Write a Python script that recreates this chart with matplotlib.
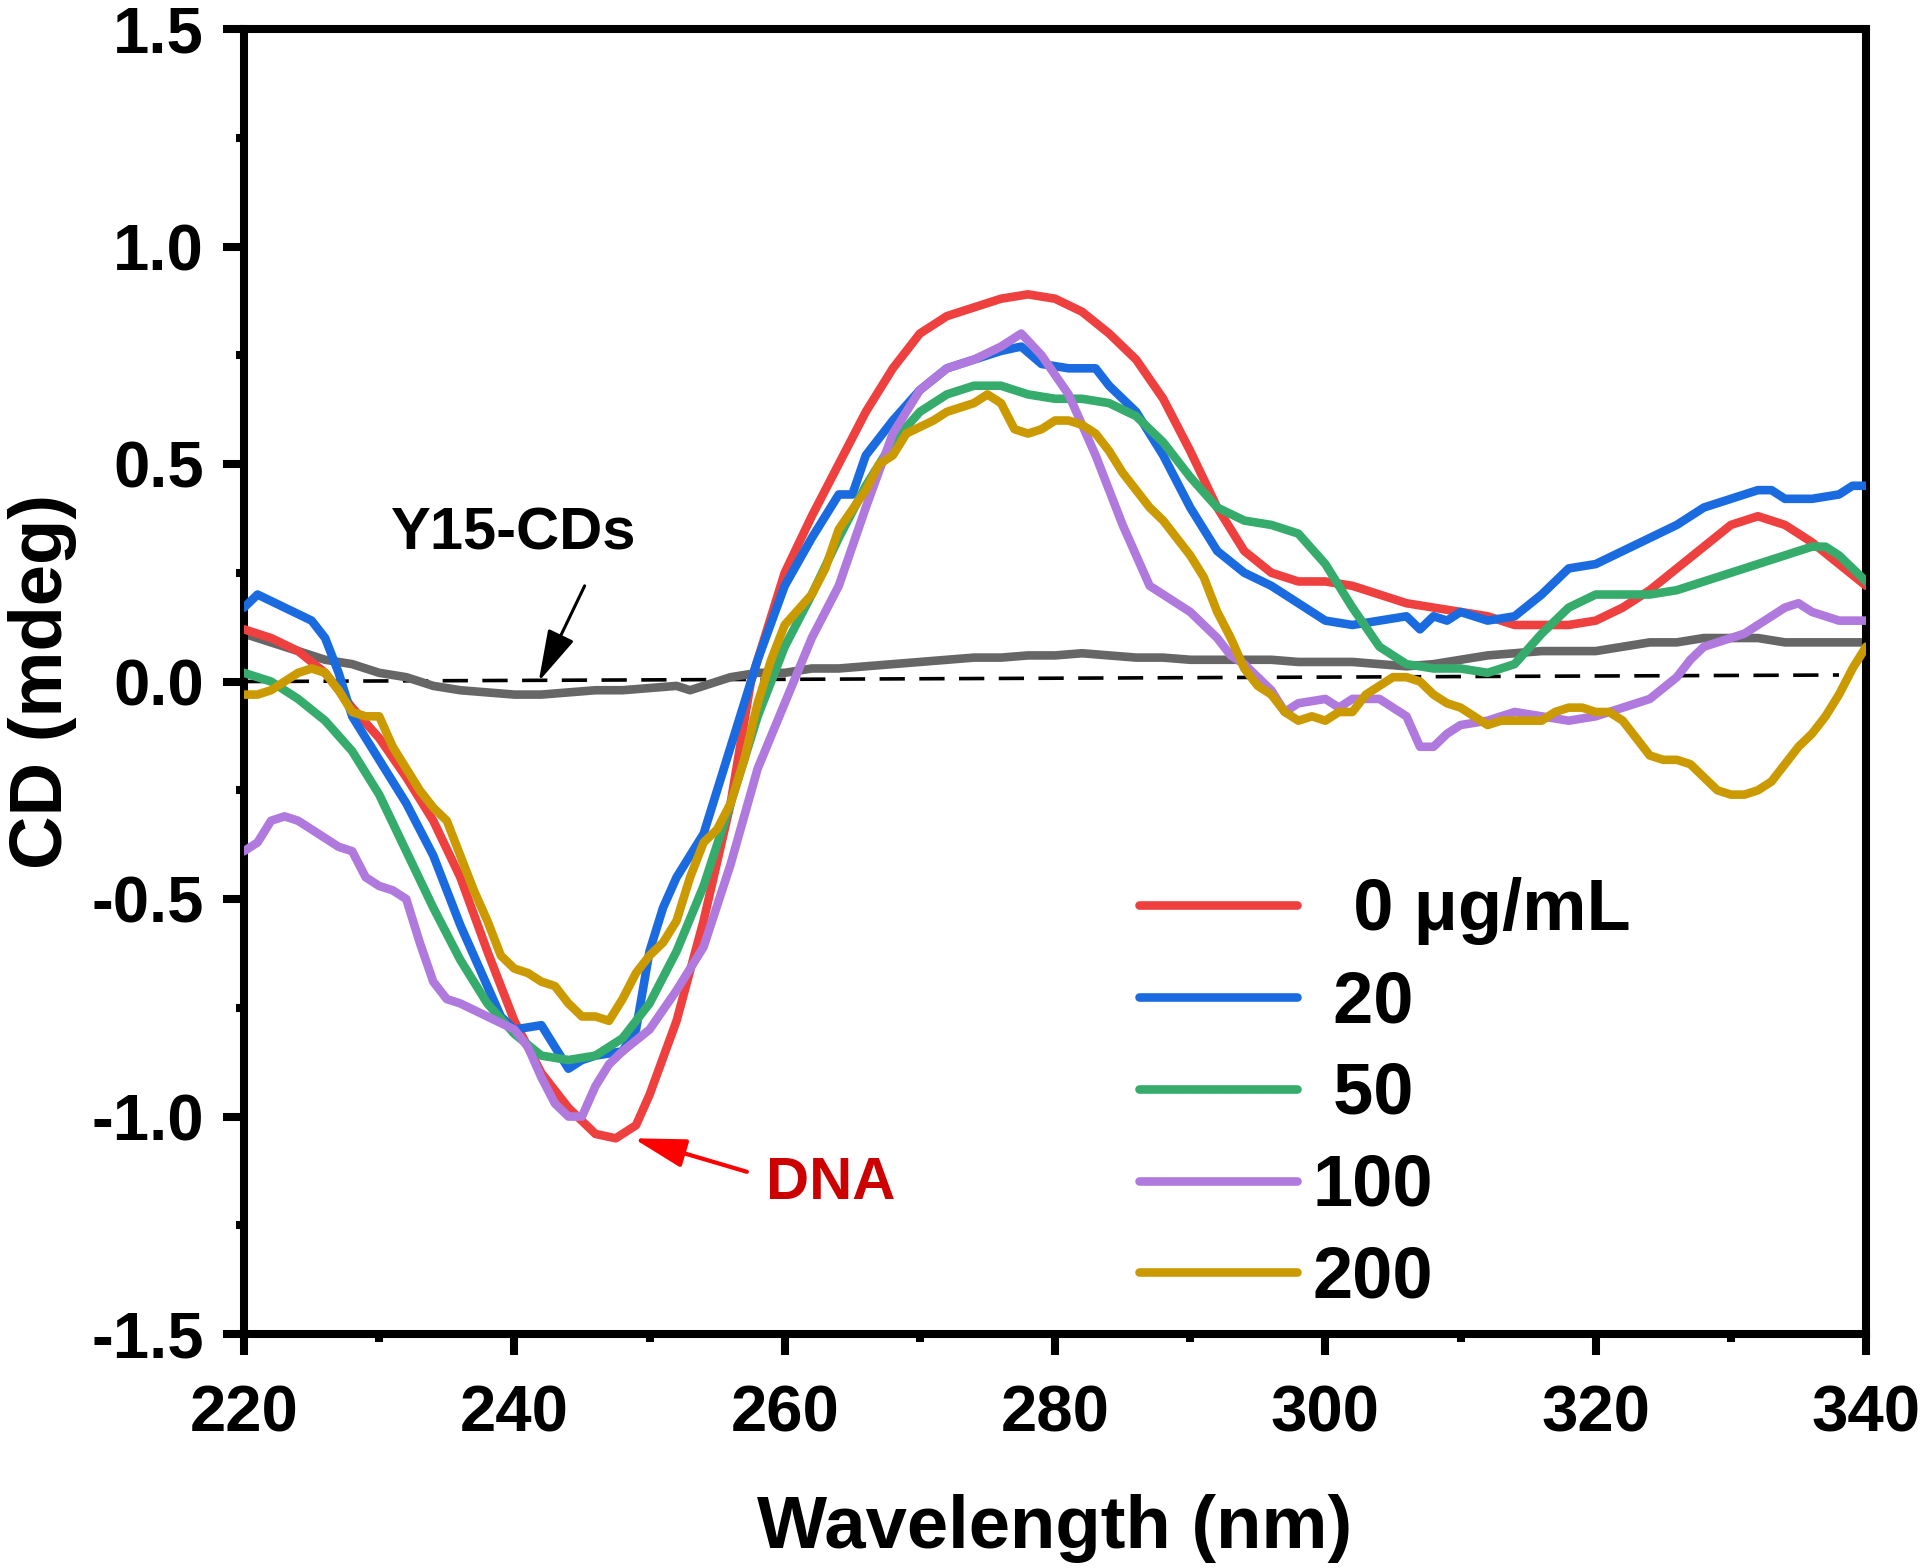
import matplotlib.pyplot as plt
from matplotlib.ticker import MultipleLocator

plt.rcParams["font.family"] = ["Liberation Sans", "DejaVu Sans"]
plt.rcParams["font.weight"] = "bold"

# ---- data (wavelength nm, CD mdeg) ----
x_dna = [220, 222, 224, 226, 228, 230, 232, 234, 236, 238, 240, 242, 244, 246,
         247.5, 249, 250, 252, 254, 256, 257.5, 260, 262, 264, 266, 268, 270,
         272, 274, 276, 278, 280, 282, 284, 286, 288, 290, 292, 294, 296, 298,
         300, 302, 304, 306, 308, 310, 312, 314, 316, 318, 320, 322, 324, 326,
         328, 330, 332, 334, 336, 338, 340]
y_dna = [0.12, 0.10, 0.07, 0.02, -0.06, -0.13, -0.22, -0.32, -0.45, -0.62,
         -0.78, -0.90, -0.98, -1.04, -1.05, -1.02, -0.95, -0.78, -0.55, -0.28,
         0.0, 0.25, 0.38, 0.50, 0.62, 0.72, 0.80, 0.84, 0.86, 0.88, 0.89, 0.88,
         0.85, 0.80, 0.74, 0.65, 0.53, 0.40, 0.30, 0.25, 0.23, 0.23, 0.22, 0.20,
         0.18, 0.17, 0.16, 0.15, 0.13, 0.13, 0.13, 0.14, 0.17, 0.21, 0.26, 0.31,
         0.36, 0.38, 0.36, 0.32, 0.27, 0.22]

x_20 = [220, 221, 223, 225, 226, 227, 228, 230, 232, 234, 236, 238, 239, 240,
        242, 243, 244, 245, 246, 248, 249, 250, 251, 252, 254, 256, 258, 260,
        262, 264, 265, 266, 268, 270, 272, 274, 276, 277.5, 279, 281, 283, 284,
        286, 288, 290, 292, 294, 296, 298, 300, 302, 304, 306, 307, 308, 309,
        310, 312, 314, 316, 318, 320, 322, 324, 326, 328, 330, 331, 332, 333,
        334, 336, 338, 339, 340]
y_20 = [0.17, 0.20, 0.17, 0.14, 0.10, 0.02, -0.08, -0.18, -0.28, -0.40, -0.56,
        -0.70, -0.77, -0.80, -0.79, -0.84, -0.89, -0.87, -0.86, -0.85, -0.80,
        -0.62, -0.52, -0.45, -0.35, -0.15, 0.05, 0.22, 0.33, 0.43, 0.43, 0.52,
        0.60, 0.67, 0.72, 0.74, 0.76, 0.77, 0.73, 0.72, 0.72, 0.68, 0.62, 0.52,
        0.40, 0.30, 0.25, 0.22, 0.18, 0.14, 0.13, 0.14, 0.15, 0.12, 0.15, 0.14,
        0.16, 0.14, 0.15, 0.20, 0.26, 0.27, 0.30, 0.33, 0.36, 0.40, 0.42, 0.43,
        0.44, 0.44, 0.42, 0.42, 0.43, 0.45, 0.45]

x_50 = [220, 222, 224, 226, 228, 230, 232, 234, 236, 238, 240, 242, 244, 246,
        248, 250, 252, 254, 256, 258, 260, 262, 264, 266, 268, 270, 272, 274,
        276, 278, 280, 282, 284, 286, 288, 290, 292, 294, 296, 298, 300, 302,
        304, 306, 308, 310, 312, 314, 316, 318, 320, 322, 324, 326, 328, 330,
        332, 334, 336, 337, 338, 340]
y_50 = [0.02, 0.0, -0.04, -0.09, -0.16, -0.26, -0.39, -0.52, -0.64, -0.74,
        -0.81, -0.86, -0.87, -0.86, -0.82, -0.74, -0.62, -0.47, -0.28, -0.08,
        0.08, 0.20, 0.33, 0.45, 0.55, 0.62, 0.66, 0.68, 0.68, 0.66, 0.65, 0.65,
        0.64, 0.61, 0.55, 0.47, 0.40, 0.37, 0.36, 0.34, 0.27, 0.17, 0.08, 0.04,
        0.03, 0.03, 0.02, 0.04, 0.11, 0.17, 0.20, 0.20, 0.20, 0.21, 0.23, 0.25,
        0.27, 0.29, 0.31, 0.31, 0.29, 0.23]

x_100 = [220, 221, 222, 223, 224, 226, 227, 228, 229, 230, 231, 232, 233, 234,
         235, 236, 238, 240, 241, 242, 243, 244, 245, 246, 247, 248, 250, 252,
         254, 256, 258, 260, 262, 264, 266, 268, 270, 272, 274, 276, 277.5, 279,
         281, 283, 285, 287, 289, 290, 292, 293, 294, 296, 297, 298, 300, 301,
         302, 304, 306, 307, 308, 309, 310, 312, 314, 316, 318, 320, 322, 324,
         326, 327, 328, 330, 331, 332, 334, 335, 336, 338, 340]
y_100 = [-0.39, -0.37, -0.32, -0.31, -0.32, -0.36, -0.38, -0.39, -0.45, -0.47,
         -0.48, -0.50, -0.60, -0.69, -0.73, -0.74, -0.77, -0.80, -0.84, -0.91,
         -0.97, -1.00, -1.00, -0.93, -0.88, -0.85, -0.80, -0.71, -0.61, -0.42,
         -0.20, -0.05, 0.10, 0.22, 0.40, 0.57, 0.67, 0.72, 0.74, 0.77, 0.80,
         0.75, 0.66, 0.52, 0.36, 0.22, 0.18, 0.16, 0.10, 0.06, 0.04, -0.02,
         -0.07, -0.05, -0.04, -0.06, -0.04, -0.04, -0.08, -0.15, -0.15, -0.12,
         -0.10, -0.09, -0.07, -0.08, -0.09, -0.08, -0.06, -0.04, 0.01, 0.05,
         0.08, 0.10, 0.11, 0.13, 0.17, 0.18, 0.16, 0.14, 0.14]

x_200 = [220, 221, 222, 223, 224, 225, 226, 227, 228, 229, 230, 231, 232, 233,
         234, 235, 236, 237, 238, 239, 240, 241, 242, 243, 244, 245, 246, 247,
         248, 249, 250, 251, 252, 253, 254, 255, 256, 257, 258, 259, 260, 262,
         263, 264, 266, 267, 268, 269, 271, 272, 273, 274, 275, 276, 277, 278,
         279, 280, 281, 282, 283, 284, 285, 286, 287, 288, 289, 290, 291, 292,
         293, 294, 295, 296, 297, 298, 299, 300, 301, 302, 303, 304, 305, 306,
         307, 308, 309, 310, 311, 312, 313, 314, 316, 317, 318, 319, 320, 321,
         322, 323, 324, 325, 326, 327, 328, 329, 330, 331, 332, 333, 334, 335,
         336, 337, 338, 339, 340]
y_200 = [-0.03, -0.03, -0.02, 0.0, 0.02, 0.03, 0.02, -0.02, -0.07, -0.08,
         -0.08, -0.15, -0.20, -0.25, -0.29, -0.32, -0.40, -0.48, -0.55, -0.63,
         -0.66, -0.67, -0.69, -0.70, -0.74, -0.77, -0.77, -0.78, -0.73, -0.67,
         -0.63, -0.60, -0.55, -0.45, -0.37, -0.34, -0.28, -0.18, -0.05, 0.05,
         0.13, 0.20, 0.26, 0.35, 0.44, 0.50, 0.52, 0.57, 0.60, 0.62, 0.63, 0.64,
         0.66, 0.64, 0.58, 0.57, 0.58, 0.60, 0.60, 0.59, 0.57, 0.53, 0.48, 0.44,
         0.40, 0.37, 0.33, 0.29, 0.24, 0.16, 0.10, 0.03, -0.01, -0.03, -0.07,
         -0.09, -0.08, -0.09, -0.07, -0.07, -0.03, -0.01, 0.01, 0.01, 0.0,
         -0.03, -0.05, -0.06, -0.08, -0.10, -0.09, -0.09, -0.09, -0.07, -0.06,
         -0.06, -0.07, -0.07, -0.09, -0.13, -0.17, -0.18, -0.18, -0.19, -0.22,
         -0.25, -0.26, -0.26, -0.25, -0.23, -0.19, -0.15, -0.12, -0.08, -0.03,
         0.03, 0.08]

x_cds = [220, 222, 224, 226, 228, 230, 232, 234, 236, 238, 240, 242, 244, 246,
         248, 250, 252, 253, 254, 256, 258, 260, 262, 264, 266, 268, 270, 272,
         274, 276, 278, 280, 282, 284, 286, 288, 290, 292, 294, 296, 298, 300,
         302, 304, 306, 308, 310, 312, 314, 316, 318, 320, 322, 324, 326, 328,
         330, 332, 334, 336, 338, 340]
y_cds = [0.11, 0.09, 0.07, 0.05, 0.04, 0.02, 0.01, -0.01, -0.02, -0.025, -0.03,
         -0.03, -0.025, -0.02, -0.02, -0.015, -0.01, -0.02, -0.01, 0.01, 0.02,
         0.02, 0.03, 0.03, 0.035, 0.04, 0.045, 0.05, 0.055, 0.055, 0.06, 0.06,
         0.065, 0.06, 0.055, 0.055, 0.05, 0.05, 0.05, 0.05, 0.045, 0.045, 0.045,
         0.04, 0.035, 0.04, 0.05, 0.06, 0.065, 0.07, 0.07, 0.07, 0.08, 0.09,
         0.09, 0.10, 0.10, 0.10, 0.09, 0.09, 0.09, 0.09]

baseline_x = [220, 338]
baseline_y = [0.0, 0.015]

labels = ["  0 μg/mL", " 20", " 50", "100", "200"]
colors = ["#EF4040", "#1A6BE0", "#35AC6B", "#AF79DE", "#CB9A00"]

fig = plt.figure(figsize=(19.2, 15.68), dpi=100)
ax = fig.add_axes([0.1271, 0.1492, 0.8448, 0.8323])

ax.plot(baseline_x, baseline_y, color="black", lw=2.6,
        dashes=(7, 4), zorder=1)
ax.plot(x_cds, y_cds, color="#666666", lw=6.2, zorder=2)

series = [(x_dna, y_dna), (x_20, y_20), (x_50, y_50),
          (x_100, y_100), (x_200, y_200)]
for (xs, ys), lab, col in zip(series, labels, colors):
    ax.plot(xs, ys, color=col, lw=6.2, label=lab, zorder=3,
            solid_capstyle="round")

ax.set_xlim(220, 340)
ax.set_ylim(-1.5, 1.5)
ax.xaxis.set_major_locator(MultipleLocator(20))
ax.xaxis.set_minor_locator(MultipleLocator(10))
ax.yaxis.set_major_locator(MultipleLocator(0.5))
ax.yaxis.set_minor_locator(MultipleLocator(0.25))
ax.yaxis.set_major_formatter(plt.FuncFormatter(lambda v, p: f"{v:.1f}"))

for side in ["left", "bottom", "top", "right"]:
    ax.spines[side].set_linewidth(5.8)
ax.tick_params(which="major", direction="out", length=15, width=5.8,
               labelsize=47)
ax.tick_params(which="minor", direction="out", length=5.5, width=5.8)
ax.tick_params(axis="x", which="major", pad=21)
ax.tick_params(axis="y", which="major", pad=14)
ax.tick_params(top=False, right=False, which="both")

ax.set_xlabel("Wavelength (nm)", fontsize=53.5, fontweight="bold",
              labelpad=36)
ax.set_ylabel("CD (mdeg)", fontsize=53.5, fontweight="bold", labelpad=10)

ax.annotate("", xy=(241.8, 0.0), xytext=(245.2, 0.22),
            arrowprops=dict(arrowstyle="-|>,head_length=0.8,head_width=0.22",
                            color="black", lw=2.2,
                            mutation_scale=40, shrinkA=0, shrinkB=0))
ax.text(239.9, 0.34, "Y15-CDs", fontsize=43, fontweight="bold",
        ha="center", va="center")

ax.annotate("", xy=(248.8, -1.05), xytext=(257.2, -1.127),
            arrowprops=dict(arrowstyle="-|>,head_length=0.8,head_width=0.22",
                            color="#FF0000", lw=3.0,
                            mutation_scale=40, shrinkA=0, shrinkB=0))
ax.text(263.4, -1.155, "DNA", fontsize=43, fontweight="bold",
        color="#CC0000", ha="center", va="center")

ax.legend(loc="upper left", bbox_to_anchor=(0.552, 0.350), frameon=False,
          fontsize=52, handlelength=2.18, handletextpad=0.22,
          labelspacing=0.33, borderpad=0, borderaxespad=0)

fig.savefig("out.png", dpi=100)
